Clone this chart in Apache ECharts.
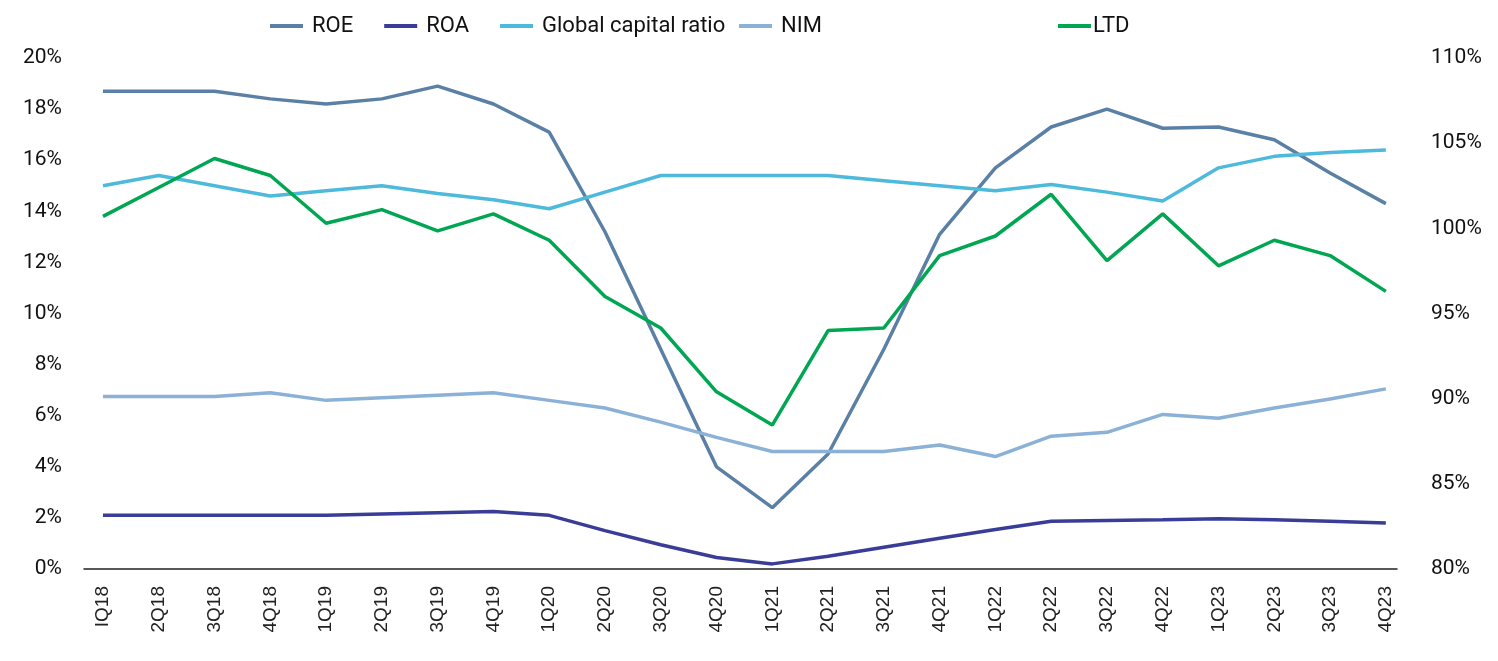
<!DOCTYPE html>
<html>
<head>
<meta charset="utf-8">
<script src="https://cdn.jsdelivr.net/npm/echarts@6/dist/echarts.min.js"></script>
<style>
html,body{margin:0;padding:0;background:#fff;}
#chart{width:1498px;height:661px;}
</style>
</head>
<body>
<div id="chart"></div>
<script>
var categories = ['IQ18','2Q18','3Q18','4Q18','1Q19','2Q19','3Q19','4Q19','1Q20','2Q20','3Q20','4Q20','1Q21','2Q21','3Q21','4Q21','1Q22','2Q22','3Q22','4Q22','1Q23','2Q23','3Q23','4Q23'];
var roe = [18.7,18.7,18.7,18.4,18.2,18.4,18.9,18.2,17.1,13.2,8.6,4.0,2.4,4.5,8.6,13.1,15.7,17.3,18.0,17.25,17.3,16.8,15.5,14.3];
var roa = [2.1,2.1,2.1,2.1,2.1,2.15,2.2,2.25,2.1,1.5,0.95,0.45,0.2,0.5,0.85,1.2,1.55,1.87,1.9,1.93,1.97,1.93,1.87,1.8];
var gcr = [15.0,15.4,15.0,14.6,14.8,15.0,14.7,14.45,14.1,14.75,15.4,15.4,15.4,15.4,15.2,15.0,14.8,15.05,14.75,14.4,15.7,16.15,16.3,16.4];
var nim = [6.75,6.75,6.75,6.9,6.6,6.7,6.8,6.9,6.6,6.3,5.75,5.15,4.6,4.6,4.6,4.85,4.4,5.2,5.35,6.05,5.9,6.3,6.65,7.05];
var ltd = [100.7,102.4,104.1,103.1,100.3,101.1,99.85,100.85,99.3,96.0,94.15,90.4,88.45,94.0,94.15,98.4,99.55,102.0,98.1,100.85,97.8,99.3,98.4,96.3];
var leftTicks = {min:0, max:20, interval:2};
var rightTicks = {min:80, max:110, interval:5};

var chart = echarts.init(document.getElementById('chart'));
var font = 'Roboto';
var idx = categories.map(function(c,i){return i;});
function mk(name, data, color, axis) {
  return {name:name, type:'line', yAxisIndex:axis, symbol:'none',
    data:data.map(function(v,i){return [i, v];}),
    lineStyle:{color:color, width:3.5}, itemStyle:{color:color}};
}
function lg(names, left, pad) {
  return {data:names, left:left, top:10, itemWidth:33, itemHeight:4, itemGap:31, icon:'rect',
    textStyle:{fontFamily:font, fontSize:22, color:'#111', padding:[0,0,0,pad]}};
}
chart.setOption({
  animation:false,
  legend:[lg(['ROE','ROA','Global capital ratio'], 265, 4), lg(['NIM'], 734, 4), lg(['LTD'], 1053, -3)],
  grid:{left:84, right:101, top:58, bottom:92},
  xAxis:{type:'value', min:-0.34, max:23.2,
    axisLine:{show:true, onZero:false, lineStyle:{color:'#222', width:1.5}}, axisTick:{show:false},
    axisLabel:{customValues:idx, rotate:90, fontFamily:'Liberation Sans', fontSize:19, color:'#222', margin:17,
      formatter:function(v){return categories[Math.round(v)];}},
    splitLine:{show:false}},
  yAxis:[{type:'value', min:leftTicks.min, max:leftTicks.max, interval:leftTicks.interval,
    axisLabel:{formatter:'{value}%', fontFamily:font, fontSize:21, color:'#111', margin:22},
    axisLine:{show:false}, axisTick:{show:false}, splitLine:{show:false}},
   {type:'value', min:rightTicks.min, max:rightTicks.max, interval:rightTicks.interval,
    axisLabel:{formatter:'{value}%', fontFamily:font, fontSize:21, color:'#111', margin:34},
    axisLine:{show:false}, axisTick:{show:false}, splitLine:{show:false}}],
  series:[
    mk('ROE', roe, '#5b80a5', 0),
    mk('ROA', roa, '#3a3d98', 0),
    mk('Global capital ratio', gcr, '#4dbadc', 0),
    mk('NIM', nim, '#8bb1d7', 0),
    mk('LTD', ltd, '#00a651', 1)
  ]
});
</script>
</body>
</html>
